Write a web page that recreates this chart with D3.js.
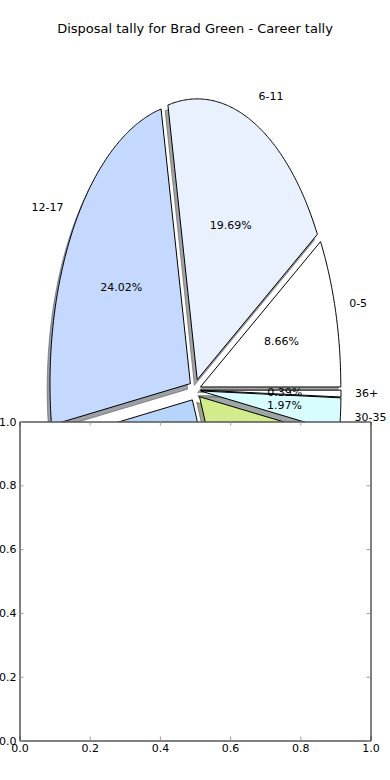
<!DOCTYPE html>
<html>
<head>
<meta charset="utf-8">
<script src="https://cdn.jsdelivr.net/npm/d3@7"></script>
<style>
  html, body { margin: 0; padding: 0; background: #ffffff; }
  svg { display: block; }
  text { font-family: "DejaVu Sans", sans-serif; fill: #000; }
</style>
</head>
<body>
<svg id="chart" width="390" height="780"></svg>
<script>
// ---- data ----
const title = "Disposal tally for Brad Green - Career tally";
const categories = ["0-5", "6-11", "12-17", "18-23", "24-29", "30-35", "36+"];
const shares = [8.66, 19.69, 24.02, 29.53, 15.75, 1.97, 0.39];
const sliceColors = ["#ffffff", "#eaf1fe", "#c5d9fe", "#b7d4fa", "#d3ec8b", "#d8fdff", "#ffffff"];
const explodeBy = [0.04, 0.04, 0.04, 0.04, 0.04, 0.04, 0.04];
const xTicks = [0.0, 0.2, 0.4, 0.6, 0.8, 1.0];
const yTicks = [0.0, 0.2, 0.4, 0.6, 0.8, 1.0];

// ---- layout ----
const W = 390, H = 780;
const svg = d3.select("#chart");

// pie axes: [0.05, 0.05, 0.9, 0.9] with limits (-1.25, 1.25)
const px = d3.scaleLinear().domain([-1.25, 1.25]).range([W * 0.05, W * 0.95]);
const py = d3.scaleLinear().domain([-1.25, 1.25]).range([H * 0.95, H * 0.05]);

const total = d3.sum(shares);
let acc = 0;
const slices = shares.map((v, i) => {
  const t1 = acc / total * 2 * Math.PI;
  acc += v;
  const t2 = acc / total * 2 * Math.PI;
  const tm = (t1 + t2) / 2;
  const e = explodeBy[i];
  return {
    label: categories[i], value: v, color: sliceColors[i],
    t1, t2, tm,
    cx: e * Math.cos(tm), cy: e * Math.sin(tm),
    pct: (v / total * 100)
  };
});

function wedgePath(cx, cy, t1, t2) {
  const pts = [[px(cx), py(cy)]];
  const n = Math.max(2, Math.ceil((t2 - t1) / (Math.PI / 360)));
  for (let k = 0; k <= n; k++) {
    const t = t1 + (t2 - t1) * k / n;
    pts.push([px(cx + Math.cos(t)), py(cy + Math.sin(t))]);
  }
  return d3.line()(pts) + "Z";
}

function shadowColor(c) {
  const r = d3.rgb(c);
  return `rgba(${Math.round(r.r * 0.3)},${Math.round(r.g * 0.3)},${Math.round(r.b * 0.3)},0.5)`;
}

const pieG = svg.append("g");
// shadows first (lower zorder)
pieG.selectAll("path.shadow").data(slices).join("path")
  .attr("class", "shadow")
  .attr("d", d => wedgePath(d.cx - 0.02, d.cy - 0.02, d.t1, d.t2))
  .attr("fill", d => shadowColor(d.color))
  .attr("stroke", d => shadowColor(d.color))
  .attr("stroke-width", 1);

pieG.selectAll("path.wedge").data(slices).join("path")
  .attr("class", "wedge")
  .attr("d", d => wedgePath(d.cx, d.cy, d.t1, d.t2))
  .attr("fill", d => d.color)
  .attr("stroke", "#000")
  .attr("stroke-width", 1)
  .attr("stroke-linejoin", "miter");

// category labels at 1.1 radius
pieG.selectAll("text.lab").data(slices).join("text")
  .attr("class", "lab")
  .attr("x", d => px(d.cx + 1.1 * Math.cos(d.tm)))
  .attr("y", d => py(d.cy + 1.1 * Math.sin(d.tm)))
  .attr("text-anchor", d => (d.cx + 1.1 * Math.cos(d.tm)) > 0 ? "start" : "end")
  .attr("dominant-baseline", "central")
  .attr("font-size", 11)
  .text(d => d.label);

// percentage labels at 0.6 radius
const fmt = d3.format(".2f");
pieG.selectAll("text.pct").data(slices).join("text")
  .attr("class", "pct")
  .attr("x", d => px(d.cx + 0.6 * Math.cos(d.tm)))
  .attr("y", d => py(d.cy + 0.6 * Math.sin(d.tm)))
  .attr("text-anchor", "middle")
  .attr("dominant-baseline", "central")
  .attr("font-size", 11)
  .text(d => fmt(d.pct) + "%");

// title
svg.append("text")
  .attr("x", W / 2)
  .attr("y", 33)
  .attr("text-anchor", "middle")
  .attr("font-size", 13)
  .text(title);

// ---- second (empty) axes: [0.05, 0.05, 0.9, 0.41] ----
const ax = { left: 19.5, right: 370.5, top: 421.5, bottom: 740.5 };
const x2 = d3.scaleLinear().domain([0, 1]).range([ax.left, ax.right]);
const y2 = d3.scaleLinear().domain([0, 1]).range([ax.bottom, ax.top]);

svg.append("rect")
  .attr("x", ax.left).attr("y", ax.top)
  .attr("width", ax.right - ax.left).attr("height", ax.bottom - ax.top)
  .attr("fill", "#ffffff");

const tf = d3.format(".1f");
function styleAxis(g) {
  g.select(".domain").attr("stroke", "#000").attr("stroke-width", 1);
  g.selectAll(".tick line").attr("stroke", "#9a9a9a").attr("stroke-width", 1);
  g.selectAll(".tick text").attr("font-size", 11).attr("fill", "#000")
    .attr("font-family", "DejaVu Sans, sans-serif");
}

svg.append("g").attr("transform", `translate(0,${ax.bottom})`)
  .call(d3.axisBottom(x2).tickValues(xTicks).tickFormat(tf).tickSizeInner(-4).tickSizeOuter(0).tickPadding(4))
  .call(styleAxis);
svg.append("g").attr("transform", `translate(0,${ax.top})`)
  .call(d3.axisTop(x2).tickValues(xTicks).tickFormat("").tickSizeInner(-4).tickSizeOuter(0))
  .call(styleAxis);
svg.append("g").attr("transform", `translate(${ax.left},0)`)
  .call(d3.axisLeft(y2).tickValues(yTicks).tickFormat(tf).tickSizeInner(-4).tickSizeOuter(0).tickPadding(3))
  .call(styleAxis);
svg.append("g").attr("transform", `translate(${ax.right},0)`)
  .call(d3.axisRight(y2).tickValues(yTicks).tickFormat("").tickSizeInner(-4).tickSizeOuter(0))
  .call(styleAxis);
</script>
</body>
</html>
